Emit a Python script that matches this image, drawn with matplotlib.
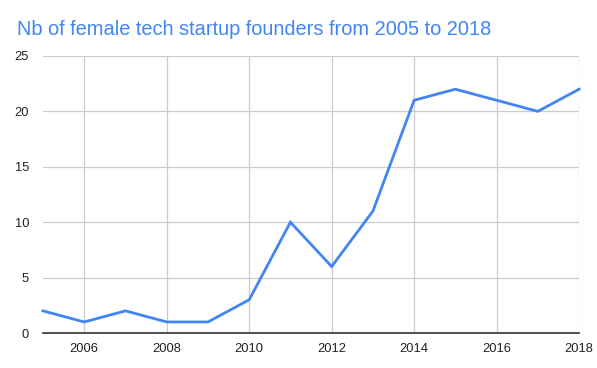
import matplotlib
matplotlib.use("Agg")
import matplotlib.pyplot as plt

years = [2005, 2006, 2007, 2008, 2009, 2010, 2011, 2012, 2013, 2014, 2015, 2016, 2017, 2018]
founders = [2, 1, 2, 1, 1, 3, 10, 6, 11, 21, 22, 21, 20, 22]
x_ticks = [2006, 2008, 2010, 2012, 2014, 2016, 2018]
y_ticks = [0, 5, 10, 15, 20, 25]

plt.rcParams['font.family'] = ['Liberation Sans', 'DejaVu Sans']

fig = plt.figure(figsize=(5.97, 3.68), dpi=100)
ax = fig.add_axes([0.072, 0.095, 0.898, 0.753])

ax.plot(years, founders, color='#4285F4', linewidth=2, solid_joinstyle='miter', clip_on=False, zorder=3)

ax.set_xlim(2005, 2018)
ax.set_ylim(0, 25)
ax.set_xticks(x_ticks)
ax.set_yticks(y_ticks)
ax.grid(True, color='#cccccc', linewidth=0.9)
ax.set_axisbelow(True)

for s in ['top', 'right', 'left']:
    ax.spines[s].set_visible(False)
ax.spines['bottom'].set_color('#333333')
ax.spines['bottom'].set_linewidth(1.2)
ax.spines['bottom'].set_zorder(4)

ax.tick_params(axis='both', length=0, labelsize=9.3, colors='#222222')
ax.tick_params(axis='x', pad=7)
ax.tick_params(axis='y', pad=10)

fig.text(0.028, 0.905, 'Nb of female tech startup founders from 2005 to 2018',
         color='#4285F4', fontsize=14.4, ha='left', va='baseline')

fig.savefig('out.png', dpi=100)
